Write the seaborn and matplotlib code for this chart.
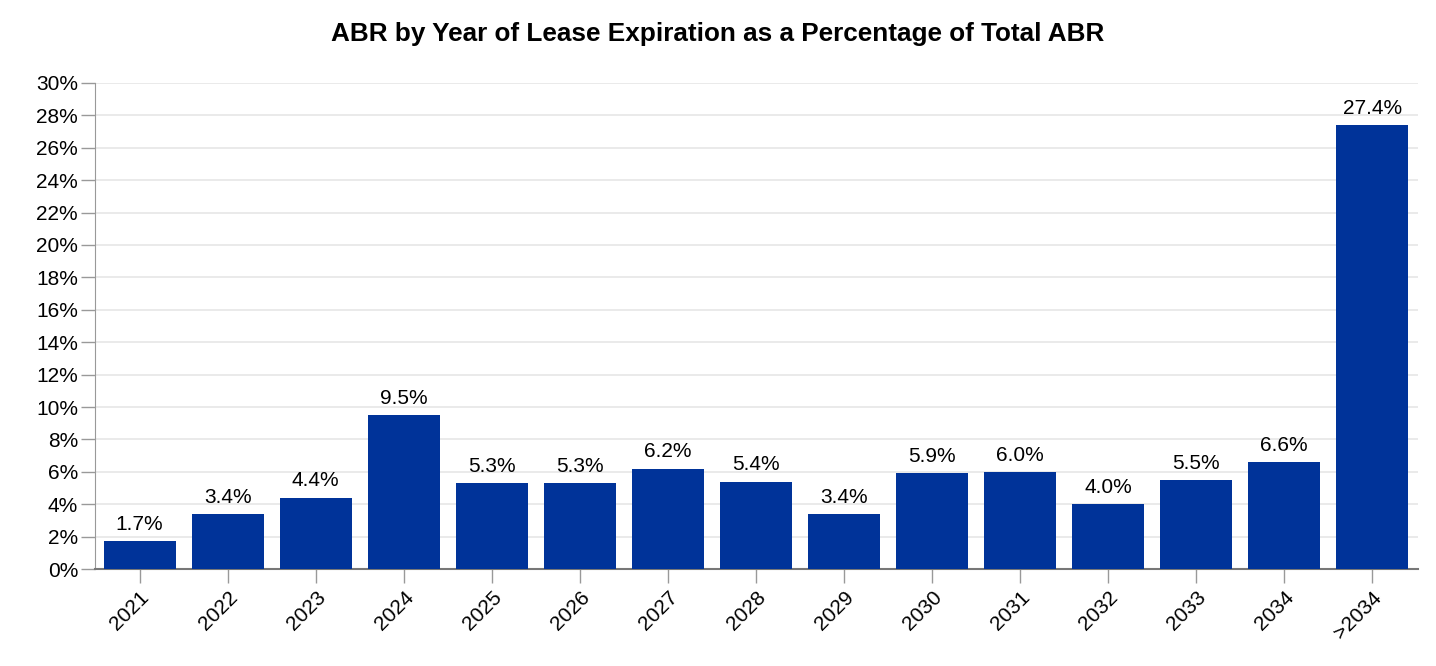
import matplotlib
matplotlib.use('Agg')
import matplotlib.pyplot as plt
import seaborn as sns
import pandas as pd
from matplotlib.ticker import MultipleLocator, FuncFormatter

# Data
years = ['2021', '2022', '2023', '2024', '2025', '2026', '2027', '2028',
         '2029', '2030', '2031', '2032', '2033', '2034', '>2034']
abr_pct = [1.7, 3.4, 4.4, 9.5, 5.3, 5.3, 6.2, 5.4, 3.4, 5.9, 6.0, 4.0, 5.5, 6.6, 27.4]

df = pd.DataFrame({'year': years, 'pct': abr_pct})

sns.set_style('white')
plt.rcParams['font.family'] = ['Liberation Sans', 'DejaVu Sans']
plt.rcParams['text.color'] = 'black'
plt.rcParams['xtick.color'] = 'black'
plt.rcParams['ytick.color'] = 'black'

fig = plt.figure(figsize=(14.36, 6.66), dpi=100)
ax = fig.add_axes([0.066, 0.1456, 0.9215, 0.7298])

sns.barplot(data=df, x='year', y='pct', color='#003399', saturation=1,
            width=0.82, linewidth=0, ax=ax, zorder=3)

# Value labels
for i, v in enumerate(abr_pct):
    ax.text(i, v + 0.45, f'{v:.1f}%', ha='center', va='bottom', fontsize=15, color='black')

ax.set_ylim(0, 30)
ax.set_xlim(-0.51, 14.52)
ax.yaxis.set_major_locator(MultipleLocator(2))
ax.yaxis.set_major_formatter(FuncFormatter(lambda y, _: f'{y:.0f}%'))
ax.grid(axis='y', color='#e6e6e6', linewidth=1.2, zorder=0)
ax.set_axisbelow(True)

for s in ['top', 'right']:
    ax.spines[s].set_visible(False)
ax.spines['left'].set_color('#999999')
ax.spines['bottom'].set_color('#777777')
ax.spines['bottom'].set_linewidth(1.5)

ax.tick_params(axis='y', which='major', left=True, length=10, width=1, color='#999999',
               labelcolor='black', labelsize=15, pad=2)
ax.tick_params(axis='x', which='major', bottom=True, length=10, width=1, color='#999999',
               labelcolor='black', labelsize=15)
plt.setp(ax.get_xticklabels(), rotation=45, ha='right', rotation_mode='anchor')

ax.set_xlabel('')
ax.set_ylabel('')
fig.suptitle('ABR by Year of Lease Expiration as a Percentage of Total ABR',
             x=0.5, y=0.967, fontsize=18.8, fontweight='bold', color='black')

fig.savefig('out.png', dpi=100)
